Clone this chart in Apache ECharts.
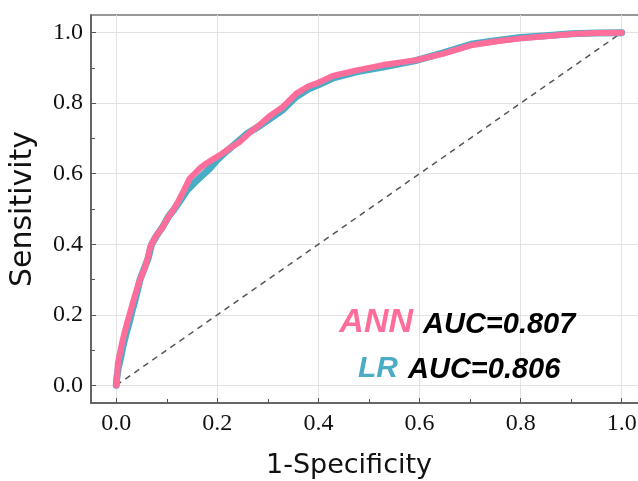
<!DOCTYPE html>
<html>
<head>
<meta charset="utf-8">
<script src="https://cdn.jsdelivr.net/npm/echarts@6/dist/echarts.min.js"></script>
<style>html,body{margin:0;padding:0;background:#fff}#c{width:638px;height:481px}</style>
</head>
<body>
<div id="c"></div>
<script>
// ROC curve data (1-Specificity, Sensitivity)
const annFpr = [0,0.002,0.003,0.007,0.011,0.016,0.021,0.028,0.034,0.044,0.05,0.057,0.062,0.067,0.077,0.09,0.1,0.112,0.122,0.132,0.145,0.155,0.165,0.178,0.19,0.204,0.22,0.244,0.265,0.285,0.303,0.33,0.356,0.38,0.396,0.428,0.475,0.527,0.593,0.646,0.705,0.75,0.797,0.85,0.903,0.95,1];
const annTpr = [0,0.03,0.062,0.09,0.118,0.148,0.175,0.21,0.241,0.288,0.31,0.336,0.36,0.392,0.42,0.445,0.47,0.496,0.52,0.548,0.586,0.6,0.615,0.629,0.64,0.652,0.668,0.69,0.718,0.74,0.763,0.79,0.827,0.848,0.856,0.877,0.893,0.908,0.922,0.94,0.965,0.975,0.983,0.99,0.996,0.999,1];
const lrFpr = [0,0.001,0.004,0.009,0.013,0.02,0.026,0.031,0.036,0.042,0.047,0.055,0.063,0.07,0.08,0.092,0.103,0.115,0.127,0.14,0.155,0.17,0.185,0.2,0.215,0.24,0.26,0.285,0.305,0.33,0.356,0.38,0.4,0.43,0.475,0.53,0.59,0.645,0.705,0.75,0.8,0.85,0.9,0.95,1];
const lrTpr = [0,0.02,0.05,0.08,0.11,0.15,0.18,0.21,0.235,0.27,0.3,0.33,0.36,0.4,0.425,0.45,0.478,0.5,0.525,0.553,0.575,0.595,0.615,0.64,0.66,0.69,0.715,0.737,0.757,0.782,0.818,0.84,0.852,0.872,0.889,0.903,0.92,0.942,0.968,0.977,0.986,0.991,0.997,0.999,1];
const diagX = [0,1];
const diagY = [0,1];
const majorTicks = [0,0.2,0.4,0.6,0.8,1.0];
const minorTicks = [0.1,0.3,0.5,0.7,0.9];
const legendNames = ['ANN','LR'];
const legendAuc = ['AUC=0.807','AUC=0.806'];

const PINK = '#FF6E9B', BLUE = '#4BACC6';
const zip = (a,b) => a.map((v,i)=>[v,b[i]]);

const serifLabel = {fontFamily:'Liberation Serif', fontSize:24, color:'#111'};
function majorAxis(pos){
  return {
    type:'value', min:-0.05, max:1.05, position:pos,
    axisLine:{show:true, onZero:false, lineStyle:{color:'#555', width:1.5}},
    axisTick:{show:true, inside:true, length:5, customValues:majorTicks, lineStyle:{color:'#555'}},
    axisLabel:Object.assign({show:true, customValues:majorTicks, margin: pos==='left'?8:9,
      formatter:v=>Number(v).toFixed(1)}, serifLabel),
    splitLine:{show:true, lineStyle:{color:'#e2e2e2', width:1}}
  };
}
function minorAxis(pos){
  return {
    type:'value', min:-0.05, max:1.05, position:pos,
    axisLine:{show:false, onZero:false},
    axisTick:{show:true, inside:true, length:4, customValues:minorTicks, lineStyle:{color:'#555'}},
    axisLabel:{show:false},
    splitLine:{show:false}
  };
}
const yMaj = majorAxis('left');
yMaj.name = 'Sensitivity';
yMaj.nameLocation = 'middle';
yMaj.nameRotate = 90;
yMaj.nameGap = 53;
yMaj.nameTextStyle = {fontFamily:'DejaVu Sans', fontSize:30, color:'#111'};

const chart = echarts.init(document.getElementById('c'), null, {renderer:'canvas'});
chart.setOption({
  animation:false,
  backgroundColor:'#fff',
  grid:{left:91, top:15, width:556, height:388, show:true, borderColor:'#777', borderWidth:1.5, outerBoundsMode:'none', containLabel:false},
  xAxis:[majorAxis('bottom'), minorAxis('bottom')],
  yAxis:[yMaj, minorAxis('left')],
  series:[
    {type:'line', data:zip(diagX,diagY), showSymbol:false, lineStyle:{color:'#555', width:1.5, type:[6,5]}, z:1},
    {type:'line', name:'LR', data:zip(lrFpr,lrTpr), showSymbol:false, lineStyle:{color:BLUE, width:7, cap:'round', join:'round'}, z:2},
    {type:'line', name:'ANN', data:zip(annFpr,annTpr), showSymbol:false, lineStyle:{color:PINK, width:6, cap:'round', join:'round'}, z:3}
  ],
  graphic:[
    {type:'text', x:349, y:466, style:{text:'1-Specificity', fontFamily:'DejaVu Sans', fontSize:27, fill:'#111', align:'center', verticalAlign:'middle'}},
    {type:'text', x:413, y:323, style:{text:legendNames[0], fontFamily:'Liberation Sans', fontStyle:'italic', fontWeight:'bold', fontSize:34, fill:PINK, align:'right', verticalAlign:'middle'}, z:10},
    {type:'text', x:423, y:325, style:{text:legendAuc[0], fontFamily:'Liberation Sans', fontStyle:'italic', fontWeight:'bold', fontSize:29, fill:'#000', align:'left', verticalAlign:'middle'}, z:10},
    {type:'text', x:398, y:369, style:{text:legendNames[1], fontFamily:'Liberation Sans', fontStyle:'italic', fontWeight:'bold', fontSize:30, fill:BLUE, align:'right', verticalAlign:'middle'}, z:10},
    {type:'text', x:408, y:370, style:{text:legendAuc[1], fontFamily:'Liberation Sans', fontStyle:'italic', fontWeight:'bold', fontSize:29, fill:'#000', align:'left', verticalAlign:'middle'}, z:10}
  ]
});
</script>
</body>
</html>
